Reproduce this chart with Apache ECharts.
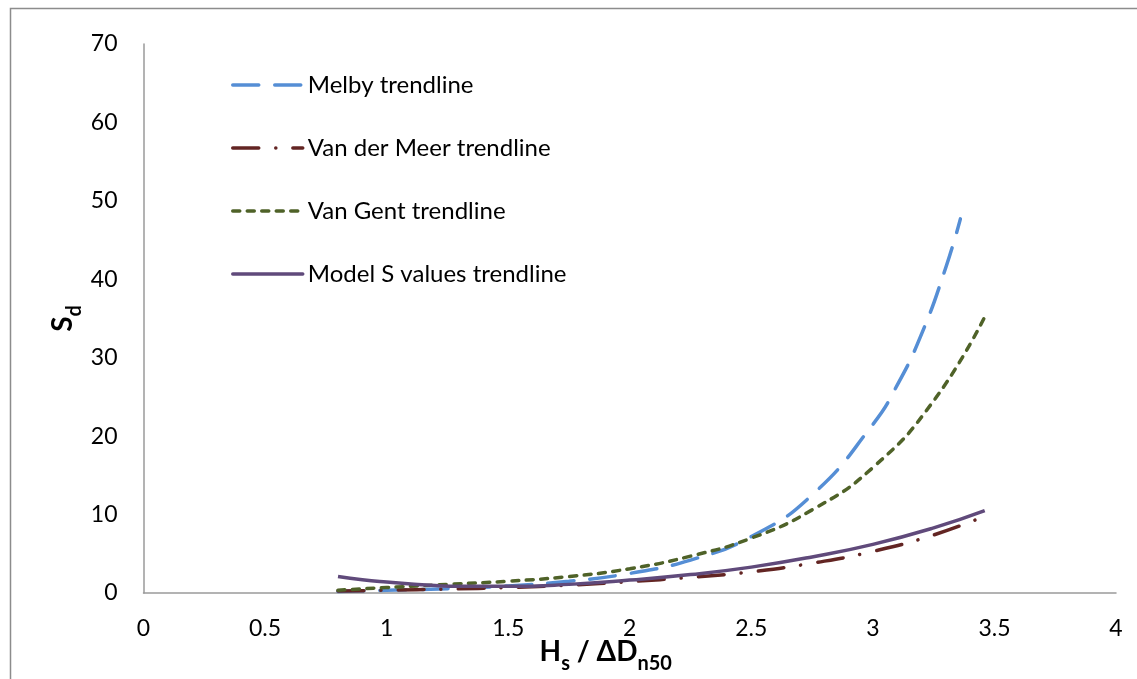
<!DOCTYPE html>
<html>
<head>
<meta charset="utf-8">
<script src="https://cdn.jsdelivr.net/npm/echarts@6/dist/echarts.min.js"></script>
<style>
html, body { margin: 0; padding: 0; background: #fff; }
#chart { width: 1137px; height: 679px; }
</style>
</head>
<body>
<div id="chart"></div>
<script>
var xTicks = [0, 0.5, 1, 1.5, 2, 2.5, 3, 3.5, 4];
var yTicks = [0, 10, 20, 30, 40, 50, 60, 70];

var melbyX = [0.8, 1.0, 1.25, 1.5, 1.75, 2.0, 2.25, 2.5, 2.75, 3.0, 3.1, 3.2, 3.3, 3.36];
var melbyY = [0.2, 0.35, 0.55, 0.9, 1.5, 2.5, 4.2, 7.2, 12.5, 21.5, 26.5, 33, 41.5, 47.7];

var trendX = [0.8, 1.0, 1.25, 1.5, 1.75, 2.0, 2.25, 2.5, 2.75, 3.0, 3.25, 3.46];
var vanDerMeerY = [0.25, 0.35, 0.5, 0.7, 1.0, 1.45, 2.0, 2.7, 3.8, 5.3, 7.4, 9.8];
var vanGentY = [0.35, 0.7, 1.1, 1.5, 2.1, 3.1, 4.7, 7.0, 10.6, 16.0, 24.5, 35.2];

var modelX = [0.8, 0.9, 1.0, 1.1, 1.2, 1.3, 1.5, 1.75, 2.0, 2.25, 2.5, 2.75, 3.0, 3.25, 3.46];
var modelY = [2.1, 1.7, 1.4, 1.15, 0.95, 0.85, 0.85, 1.1, 1.65, 2.35, 3.3, 4.6, 6.2, 8.3, 10.5];

var seriesNames = ['Melby trendline', 'Van der Meer trendline', 'Van Gent trendline', 'Model S values trendline'];

function pairs(xs, ys) {
	var out = [];
	for (var i = 0; i < xs.length; i++) {
		out.push([xs[i], ys[i]]);
	}
	return out;
}

var font = 'Lato, "Open Sans", sans-serif';
var chart = echarts.init(document.getElementById('chart'));

var option = {
	backgroundColor: '#fff',
	animation: false,
	graphic: [{
		type: 'rect',
		left: 8, top: 6,
		shape: { width: 1300, height: 900 },
		style: { fill: 'none', stroke: '#8c8c8c', lineWidth: 1.5 },
		silent: true
	}],
	grid: { left: 143.5, right: 21, top: 44, bottom: 86, outerBoundsMode: 'none' },
	legend: {
		orient: 'vertical',
		left: 226, top: 67,
		itemWidth: 70, itemHeight: 14,
		itemGap: 37,
		itemStyle: { opacity: 0 },   // hide the dot, keep the line
		lineStyle: { width: 3.5, cap: 'round' },
		textStyle: { fontFamily: font, fontSize: 24, color: '#000', lineHeight: 26 },
		data: seriesNames
	},
	xAxis: {
		type: 'value',
		min: xTicks[0], max: xTicks[xTicks.length - 1], interval: 0.5,
		splitLine: { show: false },
		axisTick: { show: false },
		axisLine: { lineStyle: { color: '#9a9a9a', width: 1.5 } },
		axisLabel: { margin: 24, fontFamily: font, fontSize: 23, color: '#000' },
		name: '{b|H}{sub|s}{b| / ΔD}{sub|n50}',
		nameLocation: 'middle',
		nameGap: 45,
		nameMoveOverlap: false,
		nameTextStyle: {
			padding: [0, 48, 0, 0],
			rich: {
				b: { fontFamily: font, fontSize: 28, fontWeight: 'bold', color: '#000', lineHeight: 36, verticalAlign: 'top' },
				sub: { fontFamily: font, fontSize: 20, fontWeight: 'bold', color: '#000', lineHeight: 36, verticalAlign: 'bottom' }
			}
		}
	},
	yAxis: {
		type: 'value',
		min: yTicks[0], max: yTicks[yTicks.length - 1], interval: 10,
		splitLine: { show: false },
		axisTick: { show: false },
		axisLine: { show: true, lineStyle: { color: '#9a9a9a', width: 1.5 } },
		axisLabel: { margin: 26, fontFamily: font, fontSize: 23, color: '#000' },
		name: '{b|S}{sub|d}',
		nameLocation: 'middle',
		nameRotate: 90,
		nameGap: 59,
		nameMoveOverlap: false,
		nameTextStyle: {
			rich: {
				b: { fontFamily: font, fontSize: 28, fontWeight: 'bold', color: '#000', lineHeight: 36, verticalAlign: 'top' },
				sub: { fontFamily: font, fontSize: 20, fontWeight: 'bold', color: '#000', lineHeight: 36, verticalAlign: 'bottom' }
			}
		}
	},
	series: [
		{
			name: seriesNames[0], type: 'line', smooth: true, showSymbol: false, symbol: 'none',
			data: pairs(melbyX, melbyY),
			itemStyle: { color: '#558ed5' },
			lineStyle: { color: '#558ed5', width: 3.5, type: [26, 16], cap: 'round' }
		},
		{
			name: seriesNames[1], type: 'line', smooth: true, showSymbol: false, symbol: 'none',
			data: pairs(trendX, vanDerMeerY),
			itemStyle: { color: '#632523' },
			lineStyle: { color: '#632523', width: 3.5, type: [26, 17, 0.1, 17], cap: 'round' }
		},
		{
			name: seriesNames[2], type: 'line', smooth: true, showSymbol: false, symbol: 'none',
			data: pairs(trendX, vanGentY),
			itemStyle: { color: '#4f6228' },
			lineStyle: { color: '#4f6228', width: 3.5, type: [7, 7.5], cap: 'round' }
		},
		{
			name: seriesNames[3], type: 'line', smooth: true, showSymbol: false, symbol: 'none',
			data: pairs(modelX, modelY),
			itemStyle: { color: '#604a7b' },
			lineStyle: { color: '#604a7b', width: 3.5 }
		}
	]
};

chart.setOption(option);
</script>
</body>
</html>
